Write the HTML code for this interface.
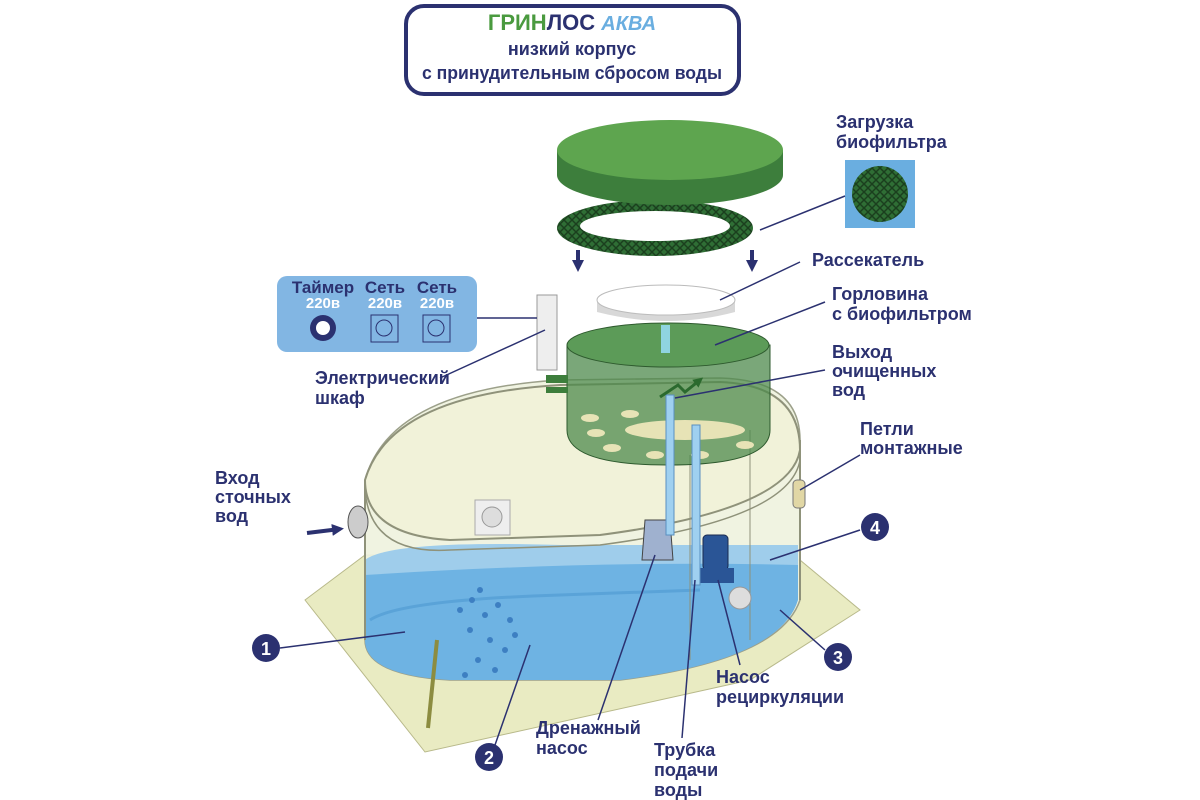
<!DOCTYPE html>
<html><head><meta charset="utf-8"><style>
body{margin:0;background:#fff}
svg{display:block}
text{font-family:"Liberation Sans",sans-serif;font-weight:bold}
</style></head><body>
<svg width="1200" height="800" viewBox="0 0 1200 800" xmlns="http://www.w3.org/2000/svg">
<defs>
<pattern id="mesh" width="8" height="8" patternUnits="userSpaceOnUse">
<rect width="8" height="8" fill="#2f6e35"/>
<path d="M0 0L8 8M8 0L0 8" stroke="#1b3f1e" stroke-width="1.5"/>
</pattern>
<marker id="ar" markerUnits="userSpaceOnUse" markerWidth="14" markerHeight="14" refX="8" refY="7" orient="auto"><path d="M0 1L12 7L0 13z" fill="#2b3170"/></marker>
<marker id="arg" markerUnits="userSpaceOnUse" markerWidth="12" markerHeight="12" refX="6" refY="6" orient="auto"><path d="M0 1L10 6L0 11z" fill="#2b6a2e"/></marker>
</defs>
<g fill="#2b3170">
<!-- title -->
<rect x="406" y="6" width="333" height="88" rx="18" fill="#fff" stroke="#2b3170" stroke-width="4"/>
<text x="572" y="30" text-anchor="middle" font-size="22"><tspan fill="#4a9a3f">ГРИН</tspan><tspan fill="#2b3170">ЛОС </tspan><tspan fill="#6aaee0" font-style="italic" font-size="20">АКВА</tspan></text>
<text x="572" y="55" text-anchor="middle" font-size="18">низкий корпус</text>
<text x="572" y="79" text-anchor="middle" font-size="18" textLength="300" lengthAdjust="spacingAndGlyphs">с принудительным сбросом воды</text>

<!-- base plate -->
<polygon points="305,600 365,555 800,560 860,610 750,680 425,752" fill="#e9ebc2" stroke="#b8b98a"/>
<!-- tank back -->
<path d="M365,480 Q390,390 560,380 L720,378 Q800,380 800,440 L800,600 Q780,660 620,680 L450,680 Q365,675 365,640 Z" fill="#eef2de" fill-opacity="0.9" stroke="#9ca08a" stroke-width="1.5"/>
<!-- water -->
<path d="M365,570 Q420,555 560,560 L798,560 L798,600 Q780,660 620,680 L450,680 Q365,675 365,640 Z" fill="#6eb3e3"/>
<path d="M365,560 Q390,540 560,545 L798,545 L798,565 Q600,560 365,575 Z" fill="#9fcdeb"/>
<path d="M370,620 Q400,600 560,595 L700,590" stroke="#5aa3d8" stroke-width="3" fill="none"/>
<!-- tank top rim -->
<path d="M365,480 Q390,395 560,385 L720,382 Q800,385 800,450 Q790,510 600,535 L450,540 Q365,535 365,480 Z" fill="#f1f1d6" fill-opacity="0.7" stroke="#8f927a" stroke-width="2"/>
<path d="M365,490 Q370,555 450,550 L600,545 Q790,520 800,460" fill="none" stroke="#8f927a" stroke-width="1.5"/>
<line x1="365" y1="480" x2="365" y2="640" stroke="#8f927a" stroke-width="2"/>
<line x1="800" y1="440" x2="800" y2="600" stroke="#8f927a" stroke-width="2"/>
<line x1="690" y1="455" x2="690" y2="660" stroke="#8f927a"/>
<line x1="750" y1="430" x2="750" y2="640" stroke="#8f927a"/>
<!-- bubbles -->
<g fill="#3d7fc2">
<circle cx="460" cy="610" r="3"/><circle cx="472" cy="600" r="3"/><circle cx="485" cy="615" r="3"/><circle cx="498" cy="605" r="3"/><circle cx="510" cy="620" r="3"/><circle cx="470" cy="630" r="3"/><circle cx="490" cy="640" r="3"/><circle cx="505" cy="650" r="3"/><circle cx="478" cy="660" r="3"/><circle cx="495" cy="670" r="3"/><circle cx="465" cy="675" r="3"/><circle cx="515" cy="635" r="3"/><circle cx="480" cy="590" r="3"/>
</g>
<line x1="437" y1="640" x2="428" y2="728" stroke="#8c8c40" stroke-width="4"/>
<!-- inlet -->
<ellipse cx="358" cy="522" rx="10" ry="16" fill="#ccc" stroke="#555"/>
<line x1="307" y1="533" x2="340" y2="529" stroke="#2b3170" stroke-width="4" marker-end="url(#ar)"/>
<rect x="475" y="500" width="35" height="35" fill="#eee" stroke="#aaa"/><circle cx="492" cy="517" r="10" fill="#ddd" stroke="#999"/>
<circle cx="740" cy="598" r="11" fill="#ddd" stroke="#999"/>
<rect x="793" y="480" width="12" height="28" rx="4" fill="#e1d7a5" stroke="#777"/>
<!-- pumps -->
<path d="M645,520 L670,520 L673,560 L642,560 Z" fill="#9fb1cf" stroke="#444"/>
<rect x="703" y="535" width="25" height="35" rx="4" fill="#2a5596" stroke="#1a2a50"/>
<rect x="698" y="568" width="36" height="15" fill="#2a5596"/>
<!-- neck -->
<path d="M567,345 L770,345 L770,430 Q770,465 668,465 Q567,465 567,430 Z" fill="#4e8a4c" fill-opacity="0.75" stroke="#2e5a2e"/>
<ellipse cx="668" cy="345" rx="101" ry="22" fill="#5c9b58" stroke="#2e5a2e"/>
<ellipse cx="685" cy="430" rx="60" ry="10" fill="#e7e3b6"/>
<g fill="#e7e3b6"><ellipse cx="596" cy="433" rx="9" ry="4"/><ellipse cx="612" cy="448" rx="9" ry="4"/><ellipse cx="655" cy="455" rx="9" ry="4"/><ellipse cx="700" cy="455" rx="9" ry="4"/><ellipse cx="745" cy="445" rx="9" ry="4"/><ellipse cx="590" cy="418" rx="9" ry="4"/><ellipse cx="630" cy="414" rx="9" ry="4"/></g>
<rect x="666" y="395" width="8" height="140" fill="#9fd0f0" stroke="#5a8fc0"/>
<rect x="692" y="425" width="8" height="160" fill="#9fd0f0" stroke="#5a8fc0"/>
<rect x="661" y="325" width="9" height="28" fill="#8fd4e0"/>
<path d="M660,397 L678,385 L685,392 L700,380" stroke="#2b6a2e" stroke-width="3" fill="none" marker-end="url(#arg)"/>
<!-- diffuser -->
<path d="M597,300 L735,300 L735,312 Q668,330 597,312 Z" fill="#d8d8d8"/>
<ellipse cx="666" cy="300" rx="69" ry="15" fill="#fff" stroke="#bbb"/>
<!-- arrows down -->
<line x1="578" y1="250" x2="578" y2="268" stroke="#2b3170" stroke-width="4" marker-end="url(#ar)"/>
<line x1="752" y1="250" x2="752" y2="268" stroke="#2b3170" stroke-width="4" marker-end="url(#ar)"/>
<!-- mesh ring -->
<path fill-rule="evenodd" d="M557,228 a98,28 0 1,0 196,0 a98,28 0 1,0 -196,0 Z M580,226 a75,15 0 1,0 150,0 a75,15 0 1,0 -150,0 Z" fill="url(#mesh)"/>
<!-- lid -->
<path d="M557,150 L557,175 A113,30 0 0,0 783,175 L783,150 Z" fill="#3d7e3c"/>
<ellipse cx="670" cy="150" rx="113" ry="30" fill="#5ea54f"/>
<!-- biofilter inset -->
<rect x="845" y="160" width="70" height="68" fill="#6aaee0"/>
<circle cx="880" cy="194" r="28" fill="url(#mesh)"/>
<line x1="760" y1="230" x2="845" y2="196" stroke="#2b3170" stroke-width="1.5"/>
<!-- electrical cabinet -->
<rect x="537" y="295" width="20" height="75" fill="#eee" stroke="#999"/>
<rect x="546" y="375" width="22" height="8" fill="#3d7e3c"/><rect x="546" y="387" width="22" height="6" fill="#3d7e3c"/>
<rect x="277" y="276" width="200" height="76" rx="10" fill="#82b6e3"/>
<line x1="477" y1="318" x2="537" y2="318" stroke="#2b3170" stroke-width="1.5"/>
<text x="323" y="293" text-anchor="middle" font-size="17">Таймер</text><text x="323" y="308" text-anchor="middle" font-size="15" fill="#fff">220в</text>
<text x="385" y="293" text-anchor="middle" font-size="17">Сеть</text><text x="385" y="308" text-anchor="middle" font-size="15" fill="#fff">220в</text>
<text x="437" y="293" text-anchor="middle" font-size="17">Сеть</text><text x="437" y="308" text-anchor="middle" font-size="15" fill="#fff">220в</text>
<circle cx="323" cy="328" r="13" fill="#2b3170"/><circle cx="323" cy="328" r="7" fill="#fff"/>
<rect x="371" y="315" width="27" height="27" fill="none" stroke="#2b3170"/><circle cx="384" cy="328" r="8" fill="none" stroke="#2b3170"/>
<rect x="423" y="315" width="27" height="27" fill="none" stroke="#2b3170"/><circle cx="436" cy="328" r="8" fill="none" stroke="#2b3170"/>
<!-- leader lines -->
<g stroke="#2b3170" stroke-width="1.5" fill="none">
<line x1="440" y1="378" x2="545" y2="330"/>
<line x1="720" y1="300" x2="800" y2="262"/>
<line x1="715" y1="345" x2="825" y2="302"/>
<line x1="675" y1="398" x2="825" y2="370"/>
<line x1="800" y1="490" x2="860" y2="455"/>
<line x1="280" y1="648" x2="405" y2="632"/>
<line x1="495" y1="745" x2="530" y2="645"/>
<line x1="598" y1="720" x2="655" y2="555"/>
<line x1="682" y1="738" x2="695" y2="580"/>
<line x1="740" y1="665" x2="718" y2="580"/>
<line x1="770" y1="560" x2="860" y2="530"/>
<line x1="825" y1="650" x2="780" y2="610"/>
</g>
<!-- number circles -->
<g font-size="18"><circle cx="266" cy="648" r="14" fill="#2b3170"/><text x="266" y="655" text-anchor="middle" fill="#fff">1</text>
<circle cx="489" cy="757" r="14" fill="#2b3170"/><text x="489" y="764" text-anchor="middle" fill="#fff">2</text>
<circle cx="838" cy="657" r="14" fill="#2b3170"/><text x="838" y="664" text-anchor="middle" fill="#fff">3</text>
<circle cx="875" cy="527" r="14" fill="#2b3170"/><text x="875" y="534" text-anchor="middle" fill="#fff">4</text></g>
<!-- labels -->
<g font-size="18" fill="#2b3170">
<text x="836" y="128">Загрузка</text><text x="836" y="148">биофильтра</text>
<text x="812" y="266">Рассекатель</text>
<text x="832" y="300">Горловина</text><text x="832" y="320">с биофильтром</text>
<text x="832" y="358">Выход</text><text x="832" y="377">очищенных</text><text x="832" y="396">вод</text>
<text x="860" y="435">Петли</text><text x="860" y="454">монтажные</text>
<text x="315" y="384">Электрический</text><text x="315" y="404">шкаф</text>
<text x="215" y="484">Вход</text><text x="215" y="503">сточных</text><text x="215" y="522">вод</text>
<text x="536" y="734">Дренажный</text><text x="536" y="754">насос</text>
<text x="654" y="756">Трубка</text><text x="654" y="776">подачи</text><text x="654" y="796">воды</text>
<text x="716" y="683">Насос</text><text x="716" y="703">рециркуляции</text>
</g>
</g>
</svg>
</body></html>
